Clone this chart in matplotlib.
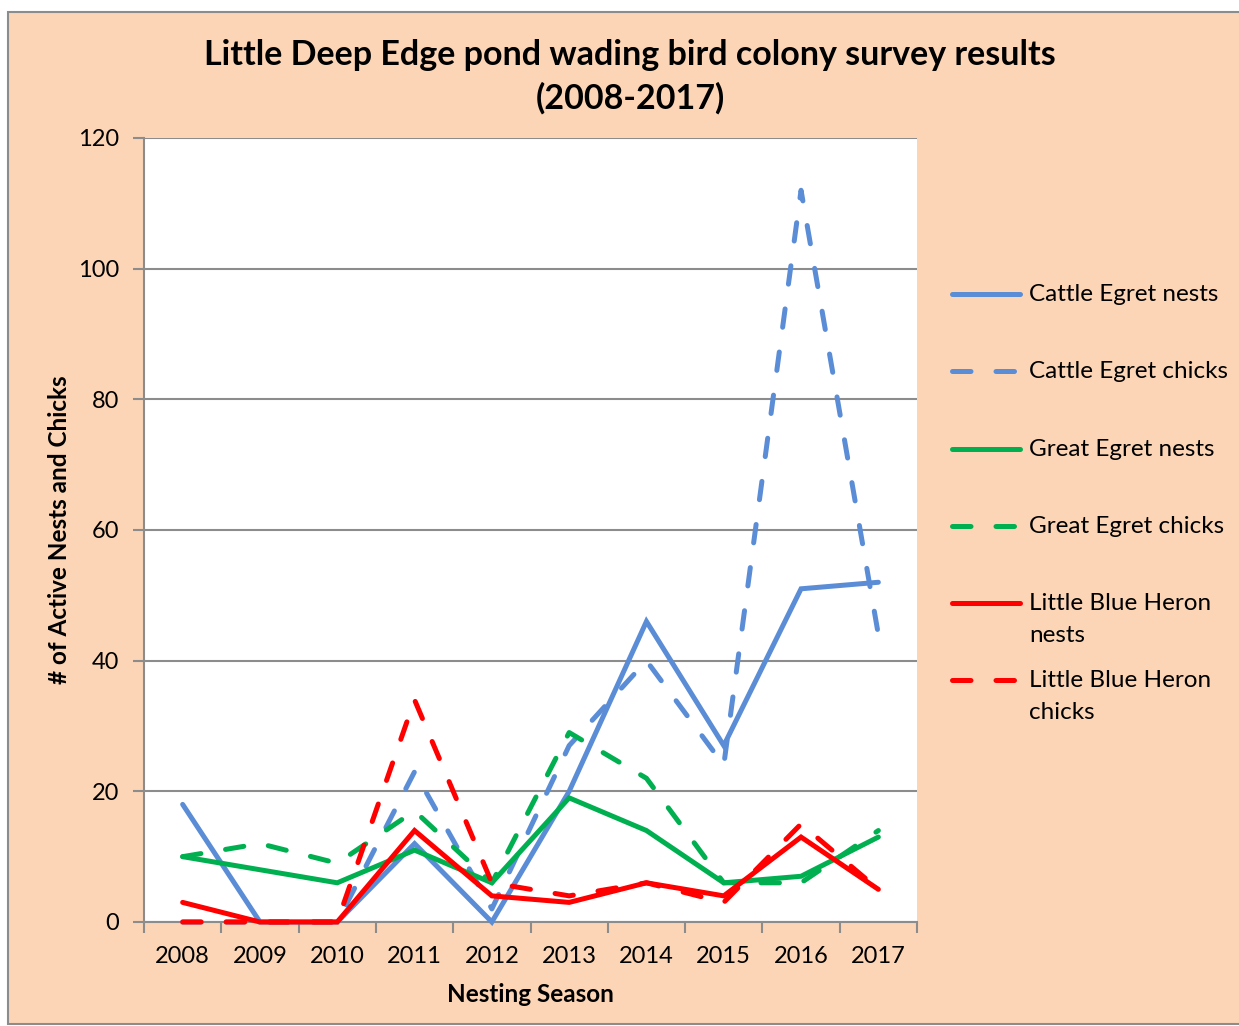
"""Wading bird colony survey chart"""

# Matplotlib
from matplotlib import pyplot as plt
from matplotlib.lines import Line2D
from matplotlib.patches import Rectangle

# Numpy
import numpy as np


seasons = ['2008', '2009', '2010', '2011', '2012',
           '2013', '2014', '2015', '2016', '2017']

cattle_nests = [18, 0, 0, 12, 0, 20, 46, 27, 51, 52]
cattle_chicks = [0, 0, 0, 23, 2, 27, 40, 24, 112, 44]
great_nests = [10, 8, 6, 11, 6, 19, 14, 6, 7, 13]
great_chicks = [10, 12, 9, 17, 6, 29, 22, 6, 6, 14]
heron_nests = [3, 0, 0, 14, 4, 3, 6, 4, 13, 5]
heron_chicks = [0, 0, 0, 34, 6, 4, 6, 3, 15, 5]

labels = ['Cattle Egret nests', 'Cattle Egret chicks',
          'Great Egret nests', 'Great Egret chicks',
          'Little Blue Heron\nnests', 'Little Blue Heron\nchicks']

BLUE = '#5A8DD6'
GREEN = '#00B050'
RED = '#FF0000'
PEACH = '#FBD5B5'
GRID = '#8C8C8C'
FONT = 'Lato'
DASH = (0, (3.7, 5.0))
LW = 3.6


def generate_plot():
    """Draw the survey lines and save the figure"""
    plt.rcParams['font.family'] = FONT
    W, H = 1239, 1026
    fig = plt.figure(figsize=(W / 100, H / 100), dpi=100, facecolor='white')

    # chart area background with thin border
    fig.patches.append(Rectangle((8 / W, 2 / H), 1.0, 1 - 14 / H,
                                 transform=fig.transFigure,
                                 facecolor=PEACH, edgecolor=GRID,
                                 linewidth=1.5, zorder=-10))

    ax = fig.add_axes([144 / W, 1 - 922 / H, (917 - 144) / W,
                       (922 - 138) / H])
    ax.set_facecolor('white')

    x = np.arange(len(seasons))
    series = [
        (cattle_nests, BLUE, '-'),
        (cattle_chicks, BLUE, DASH),
        (great_nests, GREEN, '-'),
        (great_chicks, GREEN, DASH),
        (heron_nests, RED, '-'),
        (heron_chicks, RED, DASH),
    ]
    for values, color, style in series:
        ax.plot(x, values, color=color, linestyle=style, linewidth=LW,
                dash_capstyle='round', solid_capstyle='round',
                solid_joinstyle='miter', zorder=3, clip_on=False)

    ax.set_xlim(-0.5, len(seasons) - 0.5)
    ax.set_ylim(0, 120)
    ax.set_yticks(np.arange(0, 121, 20))
    ax.set_xticks(np.arange(-0.5, len(seasons), 1.0))
    ax.set_xticklabels([])
    ax.set_xticks(x, minor=True)
    ax.set_xticklabels(seasons, minor=True)
    ax.tick_params(axis='x', which='major', length=8, width=1.5,
                   color=GRID, direction='out')
    ax.tick_params(axis='x', which='minor', length=0, pad=17,
                   labelsize=17)
    ax.tick_params(axis='y', length=8, width=1.5, color=GRID,
                   direction='out', labelsize=17, pad=10)
    ax.grid(axis='y', color=GRID, linewidth=1.5, zorder=1)
    ax.set_axisbelow(True)
    for side in ('top', 'right'):
        ax.spines[side].set_visible(False)
    for side in ('left', 'bottom'):
        ax.spines[side].set_color(GRID)
        ax.spines[side].set_linewidth(1.5)

    ax.set_xlabel('Nesting Season', fontsize=17.5, fontweight='bold',
                  labelpad=12)
    ax.set_ylabel('# of Active Nests and Chicks', fontsize=17.5,
                  fontweight='bold', labelpad=5)

    fig.text(630 / W, 1 - 77 / H,
             'Little Deep Edge pond wading bird colony survey results\n'
             '(2008-2017)', ha='center', va='center', fontsize=24.5,
             fontweight='bold', linespacing=1.42)

    # legend drawn at fixed rows on the right side
    rows = [294, 371, 449, 526, 603, 680]
    for (values, color, style), label, row in zip(series, labels, rows):
        y = 1 - row / H
        fig.add_artist(Line2D([952 / W, 1020 / W], [y, y],
                              transform=fig.transFigure, color=color,
                              linestyle=style, linewidth=LW,
                              dash_capstyle='round',
                              solid_capstyle='round'))
        fig.text(1029 / W, 1 - (row - 10) / H, label, ha='left',
                 va='top', fontsize=17.5, linespacing=1.62)

    fig.savefig('out.png', dpi=100, facecolor='white')


if __name__ == '__main__':
    generate_plot()
